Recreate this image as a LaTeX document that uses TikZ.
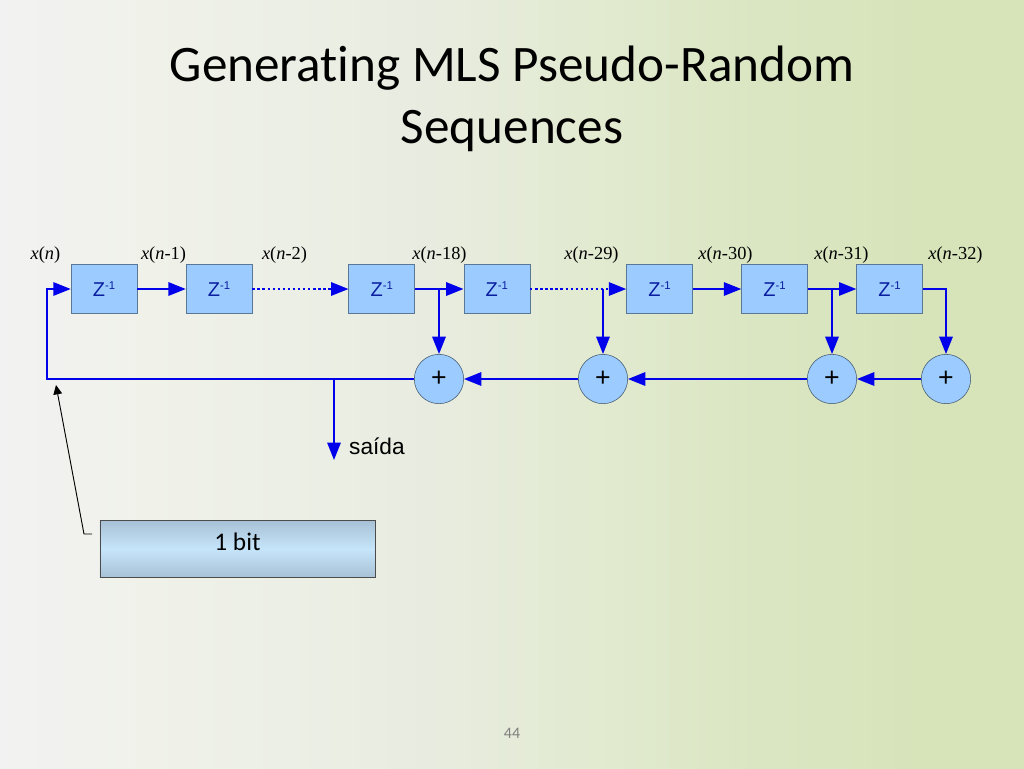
\documentclass[tikz,border=0pt]{standalone}
\usepackage{fontspec}
\setmainfont[Ligatures=NoCommon]{Carlito}
\newfontfamily\labelfont{Liberation Serif}
\newfontfamily\boxfont{Liberation Sans}
\usetikzlibrary{arrows.meta,positioning,calc}
\definecolor{wireblue}{RGB}{0,0,235}
\definecolor{boxblue}{RGB}{156,204,255}
\definecolor{boxedge}{RGB}{90,120,150}
\definecolor{zblue}{RGB}{10,30,160}
\definecolor{bitlight}{RGB}{198,229,250}
\definecolor{bitdark}{RGB}{168,193,214}
\definecolor{bgA}{RGB}{242,242,242}
\definecolor{bgB}{RGB}{240,242,234}
\definecolor{bgC}{RGB}{232,236,224}
\definecolor{bgD}{RGB}{226,234,208}
\definecolor{bgE}{RGB}{218,230,194}
\definecolor{bgF}{RGB}{215,228,186}
\pgfdeclarehorizontalshading{slidebg}{100bp}{color(0bp)=(bgA); color(25bp)=(bgA);
  color(32bp)=(bgB); color(46bp)=(bgC); color(54bp)=(bgD); color(62bp)=(bgE); color(70bp)=(bgF); color(100bp)=(bgF)}
\newcommand{\xlab}[1]{\textit{x}(\textit{n}#1)}
\newcommand{\zinv}{Z\raisebox{5pt}{\fontsize{8.5}{9}\selectfont -1}}
\begin{document}
\begin{tikzpicture}[x=0.75pt,y=-0.75pt,>=Stealth,node distance=36.4pt,
  zbox/.style={draw=boxedge,fill=boxblue,minimum width=49.5pt,minimum height=37pt,inner sep=0pt,
    text=zblue,font=\boxfont\fontsize{15}{16}\selectfont},
  adder/.style={circle,draw=boxedge!70!black,fill=boxblue,minimum size=37pt,inner sep=0pt,
    font=\boxfont\fontsize{20}{22}\selectfont},
  xl/.style={font=\labelfont\fontsize{13.8}{15}\selectfont,inner sep=0pt},
  wire/.style={draw=wireblue,line width=1.4pt},
  arr/.style={wire,-{Triangle[length=13pt,width=10pt]}},
  dotwire/.style={arr,dash pattern=on 1.8pt off 2pt}]
\useasboundingbox (0,0) rectangle (1024,768);
\shade[shading=slidebg] (0,0) rectangle (1024,768);
\node[font=\fontsize{38.4}{46.5}\selectfont,align=center] (title) at (512,99) {Generating MLS Pseudo-Random\\Sequences};
% delay line
\node[zbox] (z1) at (104,289) {\zinv};
\node[zbox, right=of z1] (z2) {\zinv};
\node[zbox, right=72.1pt of z2] (z3) {\zinv};
\node[zbox, right=of z3] (z4) {\zinv};
\node[zbox, right=72.1pt of z4] (z5) {\zinv};
\node[zbox, right=of z5] (z6) {\zinv};
\node[zbox, right=of z6] (z7) {\zinv};
% adders
\node[adder] (add1) at (439,379) {+};
\node[adder] (add2) at (603,379) {+};
\node[adder] (add3) at (832,379) {+};
\node[adder] (add4) at (946,379) {+};
% taps
\node[xl] (x0) at (45.5,255) {\xlab{}};
\node[xl] (x1) at (163.5,255) {\xlab{-1}};
\node[xl] (x2) at (284.5,255) {\xlab{-2}};
\node[xl] (x18) at (439.5,255) {\xlab{-18}};
\node[xl] (x29) at (591.5,255) {\xlab{-29}};
\node[xl] (x30) at (725.5,255) {\xlab{-30}};
\node[xl] (x31) at (841.5,255) {\xlab{-31}};
\node[xl] (x32) at (955.5,255) {\xlab{-32}};
\coordinate (tap1) at (add1 |- z3);
\coordinate (tap2) at (add2 |- z4);
\coordinate (tap3) at (add3 |- z6);
\coordinate (corner4) at (add4 |- z7);
\coordinate (fbtop) at (47,289);
\coordinate (fbbot) at (47,379);
\coordinate (outtap) at (334,379);
\coordinate (outend) at (334,460);
\draw[arr] (z1) -- (z2);
\draw[dotwire] (z2) -- (z3);
\draw[arr] (z3) -- (z4);
\draw[dotwire] (z4) -- (z5);
\draw[arr] (z5) -- (z6);
\draw[arr] (z6) -- (z7);
\draw[arr] (tap1) -- (add1);
\draw[arr] (tap2) -- (add2);
\draw[arr] (tap3) -- (add3);
\draw[arr] (z7.east) -- (corner4) -- (add4);
\draw[arr] (add4) -- (add3);
\draw[arr] (add3) -- (add2);
\draw[arr] (add2) -- (add1);
\draw[arr] (add1) -- (fbbot) -- (fbtop) -- (z1);
\draw[arr] (outtap) -- (outend);
\node[font=\boxfont\fontsize{17}{18}\selectfont,anchor=west] (out) at (344.5,446) {saída};
% one bit
\node[draw=black!70,minimum width=206pt,minimum height=42pt,inner sep=0pt] (bit) at (237.5,549) {};
\shade[top color=bitdark,bottom color=bitdark,middle color=bitlight] (bit.south west) rectangle (bit.north east);
\draw[black!70] (bit.south west) rectangle (bit.north east);
\node[font=\fontsize{19}{20}\selectfont,anchor=center] (bitlab) at (237.5,542) {1 bit};
\coordinate (bitout) at (92,534);
\coordinate (bitknee) at (84,534);
\coordinate (bittip) at (56,385);
\draw[black,line width=0.7pt,-{Triangle[length=7pt,width=6.5pt]}] (bitout) -- (bitknee) -- (bittip);
\node[text=black!50,font=\fontsize{12}{13}\selectfont] (num) at (512,733) {44};
\end{tikzpicture}
\end{document}
